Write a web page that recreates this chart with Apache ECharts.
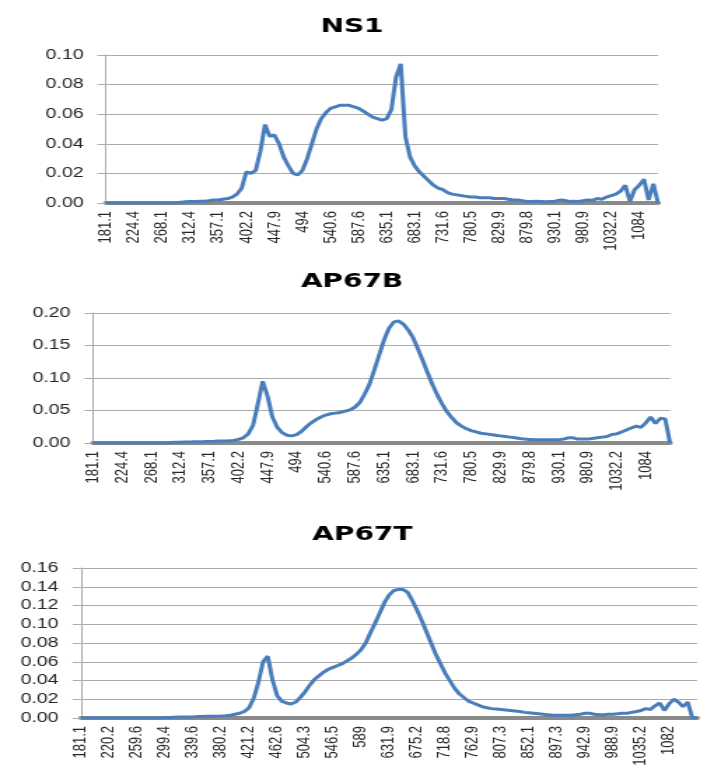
<!DOCTYPE html>
<html>
<head>
<meta charset="utf-8">
<script src="https://cdn.jsdelivr.net/npm/echarts@6/dist/echarts.min.js"></script>
<style>
  html, body { margin: 0; padding: 0; background: #fff; overflow: hidden; }
  /* the source picture is an Excel chart stretched sideways, so stretch ours too */
  #main { width: 503px; height: 778px; transform: scaleX(1.4); transform-origin: 0 0; }
</style>
</head>
<body>
<div id="main"></div>
<script>
const STEP = 6 // points between two shown wavelength labels

const ticksWide = ['181.1', '224.4', '268.1', '312.4', '357.1', '402.2', '447.9', '494', '540.6', '587.6',
  '635.1', '683.1', '731.6', '780.5', '829.9', '879.8', '930.1', '980.9', '1032.2', '1084']
const ticksT = ['181.1', '220.2', '259.6', '299.4', '339.6', '380.2', '421.2', '462.6', '504.3', '546.5', '589',
  '631.9', '675.2', '718.8', '762.9', '807.3', '852.1', '897.3', '942.9', '988.9', '1035.2', '1082']

const ns1Values = [
  0, 0, 0, 0, 0, 0, 0, 0, 0, 0,
  0, 0, 0, 0, 0, 0, 0.0005, 0.0008, 0.001, 0.001,
  0.0012, 0.0012, 0.0015, 0.002, 0.002, 0.0025, 0.003, 0.004, 0.006, 0.010,
  0.021, 0.020, 0.022, 0.035, 0.053, 0.045, 0.046, 0.040, 0.031, 0.025,
  0.020, 0.019, 0.022, 0.030, 0.040, 0.050, 0.057, 0.061, 0.064, 0.065,
  0.066, 0.066, 0.066, 0.065, 0.064, 0.062, 0.060, 0.058, 0.057, 0.056,
  0.057, 0.063, 0.085, 0.094, 0.045, 0.031, 0.025, 0.021, 0.018, 0.015,
  0.012, 0.010, 0.009, 0.007, 0.006, 0.0055, 0.005, 0.0045, 0.004, 0.004,
  0.0035, 0.0035, 0.0035, 0.003, 0.003, 0.003, 0.0025, 0.002, 0.002, 0.0015,
  0.001, 0.001, 0.0012, 0.001, 0.0008, 0.001, 0.0012, 0.002, 0.0018, 0.001,
  0.0012, 0.001, 0.0015, 0.002, 0.0018, 0.003, 0.0025, 0.004, 0.005, 0.006,
  0.008, 0.012, 0.001, 0.009, 0.012, 0.016, 0.002, 0.013, 0
]

const ap67bValues = [
  0, 0, 0, 0, 0, 0, 0, 0, 0, 0,
  0, 0, 0, 0, 0, 0, 0.0008, 0.001, 0.0012, 0.0015,
  0.0015, 0.0018, 0.002, 0.0022, 0.0025, 0.0027, 0.003, 0.0032, 0.0035, 0.004,
  0.0055, 0.008, 0.014, 0.027, 0.060, 0.095, 0.072, 0.040, 0.024, 0.016,
  0.012, 0.011, 0.013, 0.018, 0.025, 0.031, 0.036, 0.040, 0.043, 0.045,
  0.046, 0.047, 0.049, 0.051, 0.055, 0.062, 0.075, 0.090, 0.112, 0.135,
  0.158, 0.176, 0.186, 0.188, 0.183, 0.174, 0.162, 0.145, 0.127, 0.108,
  0.090, 0.074, 0.060, 0.048, 0.039, 0.031, 0.026, 0.022, 0.019, 0.017,
  0.015, 0.014, 0.013, 0.012, 0.011, 0.010, 0.009, 0.008, 0.007, 0.006,
  0.0055, 0.005, 0.005, 0.005, 0.005, 0.005, 0.005, 0.006, 0.008, 0.008,
  0.006, 0.006, 0.006, 0.007, 0.008, 0.009, 0.010, 0.013, 0.014, 0.017,
  0.020, 0.023, 0.026, 0.024, 0.031, 0.040, 0.030, 0.038, 0.037, 0
]

const ap67tValues = [
  0, 0, 0, 0, 0, 0, 0, 0, 0, 0,
  0, 0, 0, 0, 0, 0, 0, 0, 0.0005, 0.0006,
  0.0008, 0.001, 0.001, 0.0012, 0.0012, 0.0015, 0.0015, 0.0018, 0.002, 0.002,
  0.0022, 0.0025, 0.003, 0.004, 0.005, 0.007, 0.011, 0.021, 0.038, 0.060,
  0.066, 0.041, 0.024, 0.018, 0.016, 0.015, 0.017, 0.022, 0.028, 0.035,
  0.041, 0.045, 0.049, 0.052, 0.054, 0.056, 0.058, 0.061, 0.064, 0.068,
  0.073, 0.080, 0.091, 0.101, 0.112, 0.123, 0.131, 0.136, 0.137, 0.137,
  0.134, 0.125, 0.115, 0.104, 0.092, 0.080, 0.068, 0.058, 0.048, 0.040,
  0.032, 0.026, 0.022, 0.018, 0.016, 0.014, 0.012, 0.011, 0.010, 0.0095,
  0.009, 0.0085, 0.008, 0.0075, 0.007, 0.006, 0.0055, 0.005, 0.0045, 0.004,
  0.0035, 0.003, 0.003, 0.003, 0.003, 0.003, 0.0035, 0.004, 0.005, 0.005,
  0.004, 0.0035, 0.0035, 0.004, 0.004, 0.0045, 0.005, 0.005, 0.006, 0.007,
  0.008, 0.010, 0.009, 0.013, 0.016, 0.008, 0.015, 0.020, 0.017, 0.012,
  0.017, 0, 0
]

const panels = [
  { name: 'NS1', ticks: ticksWide, values: ns1Values, max: 0.10, interval: 0.02,
    grid: { left: 75.7, width: 394.3, top: 55, height: 148 }, titleLeft: 'center', titleTop: 12 },
  { name: 'AP67B', ticks: ticksWide, values: ap67bValues, max: 0.20, interval: 0.05,
    grid: { left: 66.4, width: 412.2, top: 313, height: 130 }, titleLeft: 'center', titleTop: 267 },
  { name: 'AP67T', ticks: ticksT, values: ap67tValues, max: 0.16, interval: 0.02,
    grid: { left: 57.9, width: 440, top: 568, height: 150 }, titleLeft: 218, titleTop: 520 }
]

// only every STEP-th point carries a wavelength label
const buildCategories = (ticks, count) => {
  const out = []
  for (let i = 0; i < count; i++) {
    out.push(i % STEP === 0 && ticks[i / STEP] !== undefined ? ticks[i / STEP] : '')
  }
  return out
}

const textColor = '#262626'
const gridColor = '#ababab'

const chart = echarts.init(document.getElementById('main'))

const option = {
  animation: false,
  backgroundColor: '#fff',
  title: panels.map((p) => ({
    text: p.name,
    left: p.titleLeft,
    top: p.titleTop,
    textStyle: { fontFamily: 'DejaVu Sans', fontWeight: 'bold', fontSize: 20, color: '#000' }
  })),
  grid: panels.map((p) => ({ ...p.grid, containLabel: false })),
  xAxis: panels.map((p, i) => ({
    type: 'category',
    gridIndex: i,
    boundaryGap: false,
    data: buildCategories(p.ticks, p.values.length),
    offset: 2,
    axisLine: { lineStyle: { color: '#8a8a8a', width: 4 } },
    axisTick: { show: false },
    axisLabel: {
      interval: STEP - 1,
      rotate: 90,
      margin: 6,
      fontFamily: 'Liberation Sans',
      fontSize: 13,
      color: textColor
    },
    splitLine: { show: false }
  })),
  yAxis: panels.map((p, i) => ({
    type: 'value',
    gridIndex: i,
    min: 0,
    max: p.max,
    interval: p.interval,
    axisLine: { show: true, lineStyle: { color: gridColor, width: 1 } },
    axisTick: { show: true, length: 6, lineStyle: { color: gridColor } },
    axisLabel: {
      margin: 16,
      fontFamily: 'Liberation Sans',
      fontSize: 14,
      color: textColor,
      formatter: (v) => v.toFixed(2)
    },
    splitLine: { lineStyle: { color: gridColor, width: 1 } }
  })),
  series: panels.map((p, i) => ({
    name: p.name,
    type: 'line',
    xAxisIndex: i,
    yAxisIndex: i,
    data: p.values,
    showSymbol: false,
    lineStyle: { color: '#4a7ebb', width: 3 },
    itemStyle: { color: '#4a7ebb' }
  }))
}

chart.setOption(option)
</script>
</body>
</html>
